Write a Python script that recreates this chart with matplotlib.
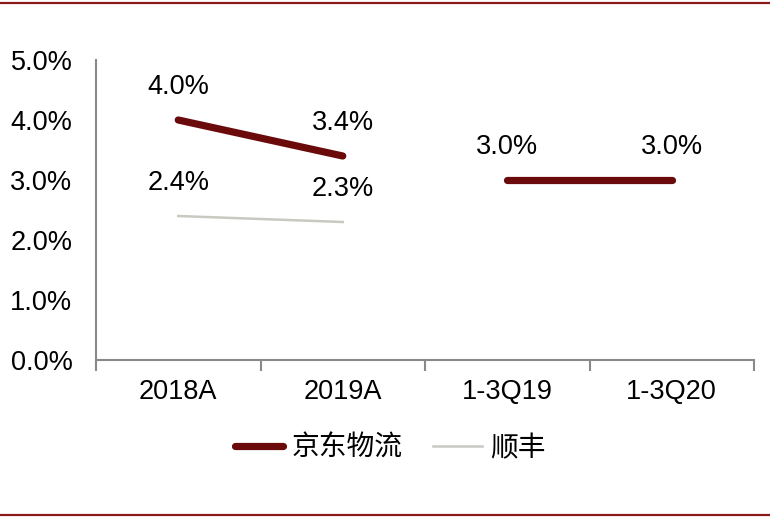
import matplotlib
matplotlib.use("Agg")
import matplotlib.pyplot as plt
from matplotlib.lines import Line2D
import numpy as np

categories = ["2018A", "2019A", "1-3Q19", "1-3Q20"]
jd_values = [4.0, 3.4, np.nan, np.nan]
jd_values2 = [np.nan, np.nan, 3.0, 3.0]
sf_values = [2.4, 2.3, np.nan, np.nan]
yticks = [0, 1, 2, 3, 4, 5]
jd_name = "京东物流"
sf_name = "顺丰"

plt.rcParams['font.family'] = ['Liberation Sans', 'Noto Sans CJK SC', 'DejaVu Sans']

W, H = 770, 518
FS = 19.5
fig = plt.figure(figsize=(W / 100, H / 100), dpi=100)
ax = fig.add_axes([96 / W, (H - 360) / H, (754 - 96) / W, 300 / H])

x = np.arange(len(categories))
jd_color = "#6B0A0A"
sf_color = "#C9C9C1"

l1, = ax.plot(x, jd_values, color=jd_color, lw=5.2, solid_capstyle='round', label=jd_name)
ax.plot(x, jd_values2, color=jd_color, lw=5.2, solid_capstyle='round')
l2, = ax.plot(x, sf_values, color=sf_color, lw=1.8, label=sf_name)

for xi, v in zip(x, jd_values):
    if not np.isnan(v):
        ax.annotate(f"{v:.1f}%", (xi, v), xytext=(0, 24), textcoords='offset points',
                    ha='center', va='center', fontsize=FS, color='black')
for xi, v in zip(x, jd_values2):
    if not np.isnan(v):
        ax.annotate(f"{v:.1f}%", (xi, v), xytext=(0, 23.5), textcoords='offset points',
                    ha='center', va='center', fontsize=FS, color='black')
for xi, v in zip(x, sf_values):
    if not np.isnan(v):
        ax.annotate(f"{v:.1f}%", (xi, v), xytext=(0, 23.5), textcoords='offset points',
                    ha='center', va='center', fontsize=FS, color='black')

ax.set_xlim(-0.5, len(categories) - 0.5)
ax.set_ylim(0, 5)
ax.set_yticks(yticks)
ax.set_yticklabels([f"{t:.1f}%" for t in yticks], fontsize=FS)
ax.set_xticks(x)
ax.set_xticklabels(categories, fontsize=FS)
ax.set_xticks(np.arange(len(categories) + 1) - 0.5, minor=True)
ax.tick_params(axis='x', which='major', length=0, pad=14)
ax.tick_params(axis='x', which='minor', length=8, width=1.5, color='#898989', direction='out')
ax.tick_params(axis='y', length=0, pad=17)

for s in ['top', 'right']:
    ax.spines[s].set_visible(False)
for s in ['left', 'bottom']:
    ax.spines[s].set_color('#898989')
    ax.spines[s].set_linewidth(1.5)

leg = fig.legend(handles=[l1, l2], loc='center', bbox_to_anchor=(390 / W, (H - 448) / H),
                 ncol=2, frameon=False, handlelength=1.75, handletextpad=0.3,
                 columnspacing=1.1, prop={'family': ['Noto Sans CJK SC'], 'size': 20})

fig.add_artist(Line2D([0, 1], [1 - 2.5 / H, 1 - 2.5 / H], color='#8B1A1A', lw=1.6, transform=fig.transFigure))
fig.add_artist(Line2D([0, 1], [3 / H, 3 / H], color='#8B1A1A', lw=1.6, transform=fig.transFigure))

fig.savefig("out.png", dpi=100)
